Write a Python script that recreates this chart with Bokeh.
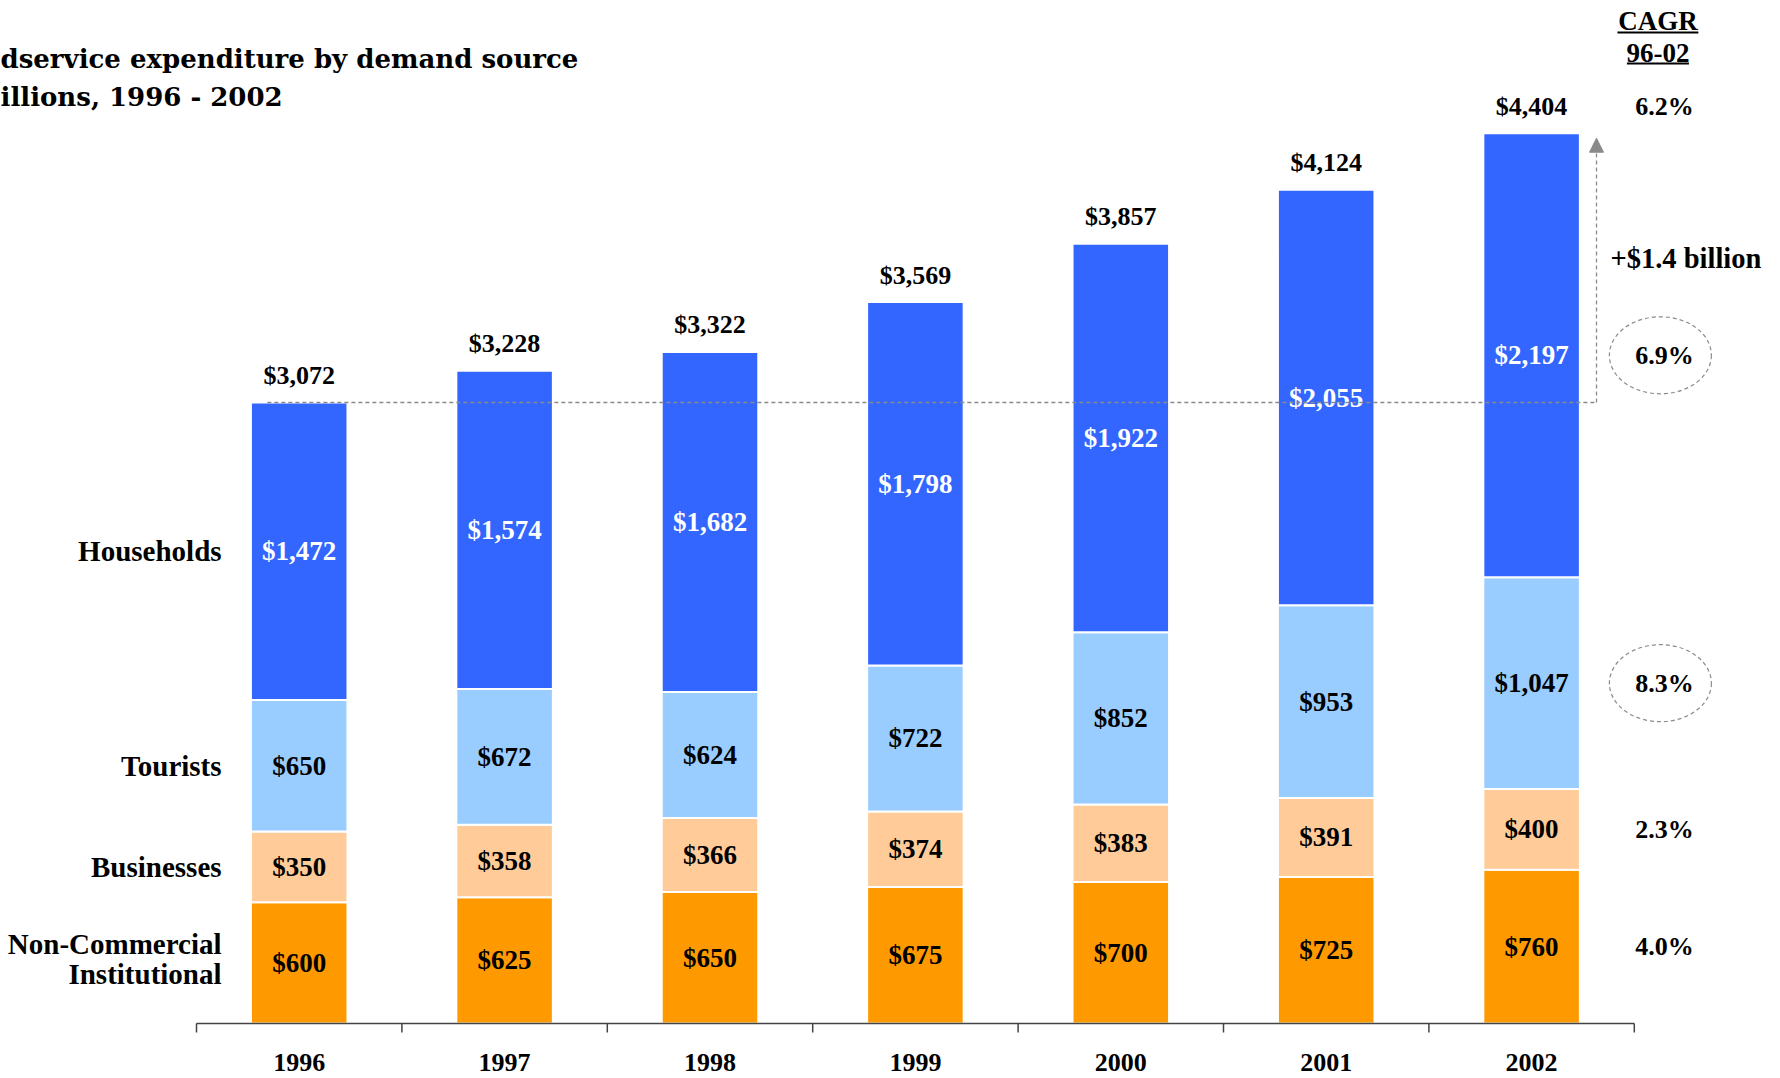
from bokeh.plotting import figure
from bokeh.models import ColumnDataSource, Range1d, Label, Arrow, NormalHead
from bokeh.core.properties import value
from bokeh.embed import file_html
from bokeh.resources import INLINE

# ---------------- data ----------------
years = ["1996", "1997", "1998", "1999", "2000", "2001", "2002"]
non_commercial = [600, 625, 650, 675, 700, 725, 760]
businesses = [350, 358, 366, 374, 383, 391, 400]
tourists = [650, 672, 624, 722, 852, 953, 1047]
households = [1472, 1574, 1682, 1798, 1922, 2055, 2197]
totals = [3072, 3228, 3322, 3569, 3857, 4124, 4404]
series_names = ["Non-Commercial Institutional", "Businesses", "Tourists", "Households"]
cagr_segments = ["4.0%", "2.3%", "8.3%", "6.9%"]
cagr_total = "6.2%"
growth_label = "+$1.4 billion"
title_lines = ["dservice expenditure by demand source", "illions, 1996 - 2002"]

# ---------------- styles ----------------
colors = ["#FF9900", "#FFCC99", "#99CCFF", "#3366FF"]
label_colors = ["black", "black", "black", "white"]
W, H = 1780, 1078
SCALE = 0.20215          # px per $ billion unit
U = 1.0 / SCALE          # units per px
CAT = 205.4              # px per category
AXIS_PX = 1023           # axis position from top (px)
FIRST_EDGE = 196         # px of first category boundary
BAR_W = 0.47
SERIF = value("Liberation Serif")
GREY = "#8a8a8a"

xs = list(range(1, len(years) + 1))

p = figure(width=W, height=H, output_backend="svg", toolbar_location=None,
           x_range=Range1d(0.5 - FIRST_EDGE / CAT, 0.5 + (W - FIRST_EDGE) / CAT),
           y_range=Range1d(-(H - AXIS_PX) * U, AXIS_PX * U),
           min_border=0, outline_line_color=None)
p.axis.visible = False
p.grid.visible = False
p.background_fill_color = "white"
p.border_fill_color = "white"

stack_src = ColumnDataSource(dict(x=xs, nci=non_commercial, bus=businesses,
                                  tour=tourists, hh=households))
p.vbar_stack(["nci", "bus", "tour", "hh"], x="x", width=BAR_W, source=stack_src,
             fill_color=colors, line_color="white", line_width=2)

# labels inside segments
series = [non_commercial, businesses, tourists, households]
lx, ly, lt, lc = [], [], [], []
base = [0] * len(years)
mids = []
for s_i, s in enumerate(series):
    m = []
    for i, v in enumerate(s):
        mid = base[i] + v / 2
        m.append(mid)
        lx.append(xs[i]); ly.append(mid); lt.append(f"${v:,}"); lc.append(label_colors[s_i])
        base[i] += v
    mids.append(m)
p.text(x="x", y="y", text="t", text_color="c",
       source=ColumnDataSource(dict(x=lx, y=ly, t=lt, c=lc)),
       text_font=SERIF, text_font_style="bold", text_font_size="27px",
       text_align="center", text_baseline="middle")

# totals above bars
p.text(x=xs, y=[t + 27 * U for t in totals], text=[f"${t:,}" for t in totals],
       text_font=SERIF, text_font_style="bold", text_font_size="26px",
       text_color="black", text_align="center", text_baseline="middle")

# axis line, ticks, years
edges = [x - 0.5 for x in xs] + [xs[-1] + 0.5]
p.segment(x0=[edges[0]], y0=[0], x1=[edges[-1]], y1=[0], line_color="#444444", line_width=1.5)
p.segment(x0=edges, y0=[0] * len(edges), x1=edges, y1=[-9 * U] * len(edges),
          line_color="#444444", line_width=1.5)
p.text(x=xs, y=[-39 * U] * len(xs), text=years, text_font=SERIF, text_font_style="bold",
       text_font_size="26px", text_color="black", text_align="center",
       text_baseline="middle")

# category labels on left (aligned with 1996 segment mids)
left_x = xs[0] - 0.378
p.text(x=[left_x] * 3, y=[mids[1][0], mids[2][0], mids[3][0]],
       text=series_names[1:], text_font=SERIF, text_font_style="bold",
       text_font_size="29px", text_color="black", text_align="right",
       text_baseline="middle")
nci_words = series_names[0].split(" ")
p.text(x=[left_x, left_x], y=[mids[0][0] + 19 * U, mids[0][0] - 11 * U],
       text=nci_words, text_font=SERIF, text_font_style="bold",
       text_font_size="29px", text_color="black", text_align="right",
       text_baseline="middle")

# reference dashed line from 1996 total and growth arrow
arrow_x = xs[-1] + 0.316
p.segment(x0=[xs[0] - BAR_W / 2 + 0.08], y0=[totals[0]], x1=[arrow_x], y1=[totals[0]],
          line_color=GREY, line_dash="4 3", line_width=1.3)
p.add_layout(Arrow(end=NormalHead(size=14, fill_color=GREY, line_color=GREY),
                   x_start=arrow_x, y_start=totals[0], x_end=arrow_x, y_end=totals[-1] - 5 * U,
                   line_color=GREY, line_dash="4 3", line_width=1.3))
p.text(x=[arrow_x + 0.068], y=[(totals[0] + totals[-1]) / 2 + 45], text=[growth_label],
       text_font=SERIF, text_font_style="bold", text_font_size="28.5px",
       text_color="black", text_align="left", text_baseline="middle")

# CAGR column
cagr_x = xs[-1] + 0.647
p.text(x=[cagr_x] * 4, y=[m[-1] for m in mids], text=cagr_segments,
       text_font=SERIF, text_font_style="bold", text_font_size="26px",
       text_color="black", text_align="center", text_baseline="middle")
p.text(x=[cagr_x], y=[totals[-1] + 27 * U], text=[cagr_total],
       text_font=SERIF, text_font_style="bold", text_font_size="26px",
       text_color="black", text_align="center", text_baseline="middle")
p.ellipse(x=[cagr_x - 0.02] * 2, y=[mids[2][-1], mids[3][-1]], width=102, height=77,
          width_units="screen", height_units="screen", fill_color=None,
          line_color=GREY, line_dash="4 3", line_width=1.2)

hdr_x = xs[-1] + 0.615
p.text(x=[hdr_x, hdr_x], y=[(AXIS_PX - 20) * U, (AXIS_PX - 52) * U], text=["CAGR", "96-02"],
       text_font=SERIF, text_font_style="bold", text_font_size="27px",
       text_color="black", text_align="center", text_baseline="middle")
p.segment(x0=[hdr_x - 0.197, hdr_x - 0.151], y0=[(AXIS_PX - 32) * U, (AXIS_PX - 63) * U],
          x1=[hdr_x + 0.197, hdr_x + 0.151], y1=[(AXIS_PX - 32) * U, (AXIS_PX - 63) * U],
          line_color="black", line_width=2)

# title (cropped as in the source slide)
for line, base_y in zip(title_lines, [H - 58, H - 96]):
    p.add_layout(Label(x=0, y=base_y, x_units="screen", y_units="screen", text=line,
                       text_font="DejaVu Serif", text_font_style="bold",
                       text_font_size="26px", text_color="black",
                       text_baseline="alphabetic", text_align="left"))

open("out.html", "w").write(file_html(p, INLINE))
